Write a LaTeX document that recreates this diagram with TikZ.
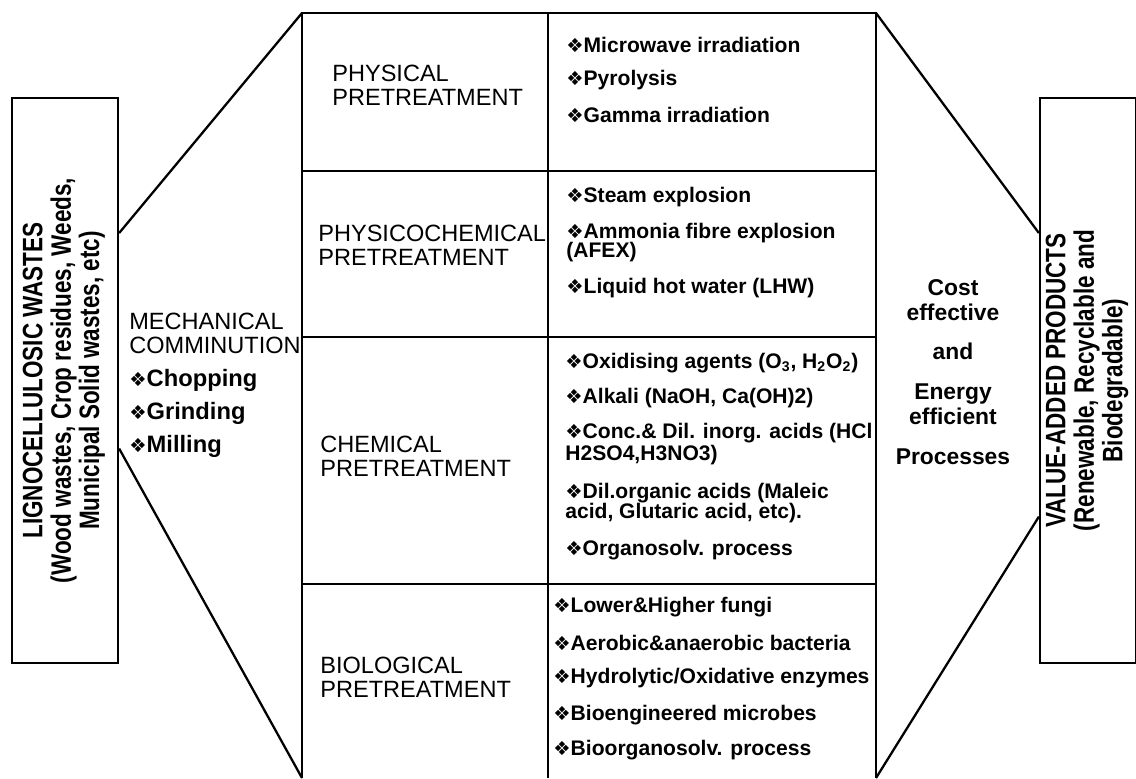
\documentclass[tikz,border=0pt]{standalone}
\usepackage{fontspec}
\usepackage{graphicx}
\setmainfont{Liberation Sans}
\newfontfamily\dingfont{DejaVu Sans}
\newfontfamily\narrowfont[FakeStretch=0.8]{Liberation Sans}
\usetikzlibrary{calc}
\newcommand{\bul}{{\dingfont\fontsize{11}{11}\selectfont ❖}}
\newcommand{\sidefont}{\narrowfont\bfseries\fontsize{16}{15.4}\selectfont}
\tikzset{
    side-box/.style = {draw, line width=1.3pt, inner sep=0pt, align=center},
    link-line/.style = {line width=1.3pt},
    head-text/.style = {anchor=west, align=left, inner sep=0pt, font=\fontsize{13.4}{13.6}\selectfont},
    item-text/.style = {anchor=west, inner sep=0pt, font=\bfseries\fontsize{12}{12}\selectfont},
    mid-text/.style = {align=center, inner sep=0pt, font=\bfseries\fontsize{13}{14.2}\selectfont},
}

\begin{document}
\begin{tikzpicture}[x=0.02cm, y=-0.02cm]
\useasboundingbox (0,0) rectangle (1136,778);

% table corners
\coordinate (tbl-nw) at (302,13);
\coordinate (tbl-ne) at (876,13);
\coordinate (tbl-sw) at (302,778);
\coordinate (tbl-se) at (876,778);
\coordinate (tbl-mid) at (548,13);

% side boxes
\node[side-box, minimum width=2.12cm, minimum height=11.3cm] (waste) at (65,380.5)
    {\rotatebox{90}{\sidefont\begin{tabular}{c}LIGNOCELLULOSIC WASTES\\(Wood wastes, Crop residues, Weeds,\\Municipal Solid wastes, etc)\end{tabular}}};
\node[side-box, minimum width=1.92cm, minimum height=11.3cm] (product) at (1088,380.5)
    {\rotatebox{90}{\sidefont\begin{tabular}{c}VALUE-ADDED PRODUCTS\\(Renewable, Recyclable and\\Biodegradable)\end{tabular}}};

% funnel lines
\draw[link-line] ($(waste.north east)!0.24!(waste.south east)$) -- (tbl-nw);
\draw[link-line] ($(waste.north east)!0.62!(waste.south east)$) -- (tbl-sw);
\draw[link-line] (tbl-ne) -- ($(product.north west)!0.24!(product.south west)$);
\draw[link-line] (tbl-se) -- ($(product.north west)!0.74!(product.south west)$);

% table
\draw[link-line] (tbl-sw) -- (tbl-nw) -- (tbl-ne) -- (tbl-se);
\draw[link-line] (tbl-mid) -- (tbl-mid |- tbl-sw);
\foreach \yy in {171,337,584}
    \draw[link-line] (302,\yy) -- (876,\yy);

% row heads
\node[head-text] (physical) at (332,85) {PHYSICAL\\PRETREATMENT};
\node[head-text] (physchem) at (318,245) {PHYSICOCHEMICAL\\PRETREATMENT};
\node[head-text] (chemical) at (320,456) {CHEMICAL\\PRETREATMENT};
\node[head-text] (biological) at (320,677) {BIOLOGICAL\\PRETREATMENT};

% row items
\foreach \yy/\txt [count=\i] in {45/{\bul Microwave irradiation}, 80/{\bul Pyrolysis},
    115/{\bul Gamma irradiation}}
    \node[item-text] (phys-\i) at (566,\yy) {\txt};
\foreach \yy/\txt [count=\i] in {197/{\bul Steam explosion}, 233/{\bul Ammonia fibre explosion},
    252/{(AFEX)}, 288/{\bul Liquid hot water (LHW)}}
    \node[item-text] (pchem-\i) at (566,\yy) {\txt};
\foreach \yy/\txt [count=\i] in {363/{\bul Oxidising agents (O\textsubscript{3}, H\textsubscript{2}O\textsubscript{2})},
    398/{\bul Alkali (NaOH, Ca(OH)2)}, 433/{\bul Conc.\& Dil. inorg. acids (HCl},
    455/{H2SO4,H3NO3)}, 493/{\bul Dil.organic acids (Maleic},
    513/{acid, Glutaric acid, etc).}, 550/{\bul Organosolv. process}}
    \node[item-text] (chem-\i) at (565,\yy) {\txt};
\foreach \yy/\txt [count=\i] in {607/{\bul Lower\&Higher fungi}, 643/{\bul Aerobic\&anaerobic bacteria},
    678/{\bul Hydrolytic/Oxidative enzymes}, 715/{\bul Bioengineered microbes},
    750/{\bul Bioorganosolv. process}}
    \node[item-text] (bio-\i) at (553,\yy) {\txt};

% mechanical step
\node[head-text] (mech) at (129,333) {MECHANICAL\\COMMINUTION};
\foreach \yy/\txt [count=\i] in {380/Chopping, 413/Grinding, 446/Milling}
    \node[head-text, font=\bfseries\fontsize{13.5}{13}\selectfont] (mech-\i) at (129,\yy) {\bul\txt};

% process note
\node[mid-text] (process) at (953,372) {Cost\\effective\\[8pt]and\\[8.5pt]Energy\\efficient\\[8.5pt]Processes};
\end{tikzpicture}
\end{document}
